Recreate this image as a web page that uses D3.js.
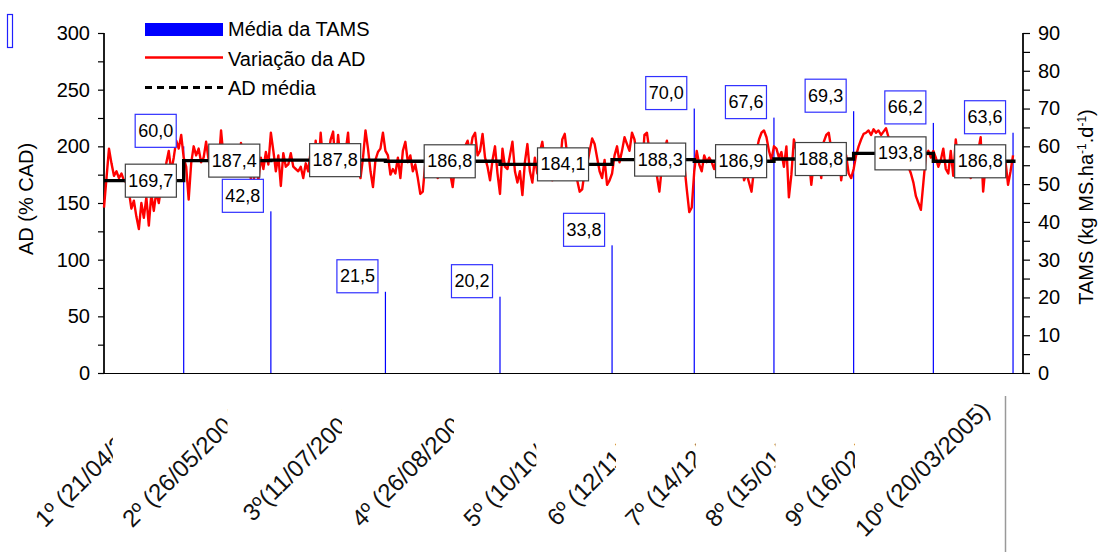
<!DOCTYPE html>
<html><head><meta charset="utf-8">
<script src="https://cdn.jsdelivr.net/npm/d3@7"></script>
<style>
body{margin:0;background:#fff;}
svg{display:block;font-family:"Liberation Sans",Arial,sans-serif;}
</style></head><body>
<svg id="chart" width="1100" height="552"></svg>
<script>
// ---------------- DATA ----------------
const periodLabels = ["1º (21/04/2004)","2º (26/05/2004)","3º(11/07/2004)","4º (26/08/2004)","5º (10/10/2004)",
  "6º (12/11/2004)","7º (14/12/2004)","8º (15/01/2005)","9º (16/02/2005)","10º (20/03/2005)"];
const periodDates = ["2004-04-21","2004-05-26","2004-07-11","2004-08-26","2004-10-10",
  "2004-11-12","2004-12-14","2005-01-15","2005-02-16","2005-03-20"];
const tamsValues = [60.0,42.8,21.5,20.2,33.8,70.0,67.6,69.3,66.2,63.6];
const adMeanValues = [169.7,187.4,187.8,186.8,184.1,188.3,186.9,188.8,193.8,186.8];
const adStartDate = "2004-03-20";
const axisEndDate = "2005-03-24";
const adDaily = [
 146,172,198,185,174,178,172,176,170,168,160,145,152,138,127,150,137,155,130,158,143,160,150,165,158,185,196,178,190,205,198,210,190,
 182,153,185,200,192,198,186,190,204,188,180,195,200,182,214,190,175,198,185,180,192,176,203,188,178,196,170,168,185,170,190,180,195,184,212,
 196,178,192,165,194,182,184,194,182,180,178,182,172,185,178,196,176,205,176,212,185,178,190,206,213,180,210,186,182,195,212,178,176,178,180,172,190,214,198,178,164,188,195,198,212,196,
 192,175,180,176,190,172,196,204,186,192,178,184,172,158,160,185,198,190,182,188,172,186,194,180,190,176,164,184,196,188,180,200,205,195,208,212,192,196,211,190,182,170,188,200,176,158,
 198,182,180,192,204,178,168,178,157,186,202,178,168,190,176,195,204,186,178,190,170,184,196,180,206,211,192,180,186,174,170,160,162,178,184,196,207,202,190,178,172,188,166,170,176,
 192,200,186,196,208,202,196,212,206,190,200,178,210,212,196,186,192,174,160,182,196,205,188,180,194,184,190,178,184,162,142,146,178,
 196,184,178,192,186,190,186,180,190,186,174,188,182,182,184,178,190,182,186,170,176,168,160,180,196,206,212,214,208,196,188,200,
 198,190,195,182,200,155,175,206,196,188,202,194,194,190,166,186,196,188,172,204,210,212,198,190,184,194,170,186,192,176,172,180,
 192,200,206,211,212,214,210,215,212,214,210,213,216,208,196,186,200,206,198,190,196,182,176,168,156,150,144,168,192,196,190,196,
 190,182,188,198,180,176,196,174,206,188,182,196,178,190,172,178,186,196,208,160,184,194,188,200,186,174,192,182,186,166,178,192
];
const leftTickValues = [0,50,100,150,200,250,300];
const leftMinorTicks = [25,75,125,175,225,275];
const rightTickValues = [0,10,20,30,40,50,60,70,80,90];
const rightMinorTicks = [5,15,25,35,45,55,65,75,85];
const legendItems = ["Média da TAMS","Variação da AD","AD média"];

// ---------------- SETUP ----------------
const parse = d3.timeParse("%Y-%m-%d");
const DAY = 864e5;
const svg = d3.select("#chart");
const L = 104, R = 1023, T = 33, B = 373;

const x = d3.scaleTime().domain([parse(adStartDate), parse(axisEndDate)]).range([L, R]);
const yL = d3.scaleLinear().domain([0,300]).range([B, T]);
const yR = d3.scaleLinear().domain([0,90]).range([B, T]);

const start = parse(adStartDate);
const adSeries = adDaily.map((v,i)=>({date:new Date(start.getTime()+i*DAY), v}));
const pDates = periodDates.map(parse);

// stray empty label box (top-left artifact)
svg.append("rect").attr("x",7.5).attr("y",14.5).attr("width",5).attr("height",33)
  .attr("fill","none").attr("stroke","#2020ff").attr("stroke-width",1.2);

// ---------------- AXES ----------------
const fontTick = "20px";
svg.append("g").attr("transform",`translate(${L},0)`)
  .call(d3.axisLeft(yL).tickValues(leftTickValues).tickSize(6).tickPadding(8).tickFormat(d3.format("d")));
svg.append("g").attr("transform",`translate(${L},0)`)
  .call(d3.axisLeft(yL).tickValues(leftMinorTicks).tickSize(6).tickFormat(""));
svg.append("g").attr("transform",`translate(${R},0)`)
  .call(d3.axisRight(yR).tickValues(rightTickValues).tickSize(7).tickPadding(8).tickFormat(d3.format("d")));
svg.append("g").attr("transform",`translate(${R},0)`)
  .call(d3.axisRight(yR).tickValues(rightMinorTicks).tickSize(7).tickFormat(""));
svg.selectAll(".domain").attr("stroke","#000").attr("stroke-width",1.3)
  .attr("d", `M0,${T}V${B}`);
svg.selectAll(".tick line").attr("stroke","#000").attr("stroke-width",1.2);
svg.selectAll(".tick text").attr("font-size",fontTick).attr("fill","#000")
  .attr("font-family","Liberation Sans, Arial, sans-serif");

// x baseline
svg.append("line").attr("x1",L).attr("x2",R).attr("y1",B+0.5).attr("y2",B+0.5)
  .attr("stroke","#000").attr("stroke-width",1);

// axis titles
svg.append("text").attr("transform",`translate(33,${(T+B)/2 - 4}) rotate(-90)`)
  .attr("text-anchor","middle").attr("font-size","20px").text("AD (% CAD)");
const tt = svg.append("text").attr("transform",`translate(1093,${(T+B)/2 + 4}) rotate(-90)`)
  .attr("text-anchor","middle").attr("font-size","20px");
tt.append("tspan").text("TAMS (kg MS.ha");
tt.append("tspan").attr("baseline-shift","super").attr("font-size","12px").text("-1");
tt.append("tspan").text(".d");
tt.append("tspan").attr("baseline-shift","super").attr("font-size","12px").text("-1");
tt.append("tspan").text(")");

// ---------------- BARS (TAMS) ----------------
svg.append("g").selectAll("rect").data(tamsValues).join("rect")
  .attr("x",(d,i)=>x(pDates[i]) - 0.6)
  .attr("width",1.2)
  .attr("y",d=>yR(d))
  .attr("height",d=>yR(0)-yR(d))
  .attr("fill","#0000ff");

// ---------------- RED LINE ----------------
svg.append("path").datum(adSeries)
  .attr("fill","none").attr("stroke","#ff0000").attr("stroke-width",2.4).attr("stroke-linejoin","round")
  .attr("d", d3.line().x(d=>x(d.date)).y(d=>yL(d.v)));

// ---------------- MEAN STEP LINE ----------------
const periodStarts = [start].concat(pDates.slice(0,-1));
const stepPts = adMeanValues.map((v,i)=>({date:periodStarts[i], v}));
stepPts.push({date:new Date(pDates[pDates.length-1].getTime()+DAY), v:adMeanValues[adMeanValues.length-1]});
svg.append("path").datum(stepPts)
  .attr("fill","none").attr("stroke","#000").attr("stroke-width",3.4)
  .attr("d", d3.line().curve(d3.curveStepAfter).x(d=>x(d.date)).y(d=>yL(d.v)));

// ---------------- LABEL BOXES ----------------
const fmt = v => v.toFixed(1).replace(".", ",");
function boxLabel(g, cx, cy, txt, stroke, fs){
  const grp = g.append("g");
  const t = grp.append("text").attr("x",cx).attr("y",cy).attr("text-anchor","middle")
    .attr("dominant-baseline","central").attr("font-size",fs).text(txt);
  const w = t.node().getComputedTextLength() + 6;
  grp.insert("rect","text").attr("x",cx - w/2).attr("y",cy-16.5).attr("width",w).attr("height",33)
    .attr("fill","#fff").attr("stroke",stroke).attr("stroke-width",1.2);
}
const labG = svg.append("g");
adMeanValues.forEach((v,i)=>{
  const a = x(periodStarts[i]), b = x(pDates[i]);
  boxLabel(labG, (a+b)/2 + 7, yL(v), fmt(v), "#404040", "18px");
});
tamsValues.forEach((v,i)=>{
  boxLabel(labG, x(pDates[i]) - 28, yR(v) - 15.5, fmt(v), "#3030ff", "18px");
});

// ---------------- X LABELS ----------------
const defs = svg.append("defs");
const xlabG = svg.append("g");
periodLabels.forEach((lab,i)=>{
  const bx = x(pDates[i]);
  let clipRight = 1100;
  if(i < periodLabels.length-1) clipRight = x(pDates[i+1]) - 158;
  defs.append("clipPath").attr("id","xc"+i).append("rect")
    .attr("x",0).attr("y",380).attr("width",clipRight).attr("height",172);
  xlabG.append("g").attr("clip-path",`url(#xc${i})`)
    .append("text").attr("text-anchor","end").attr("font-size","24px").attr("fill","#111")
    .attr("transform",`translate(${bx-22},${412}) rotate(-45)`).text(lab);
});
// thin grey line at right of label area
svg.append("line").attr("x1",1005.5).attr("x2",1005.5).attr("y1",396).attr("y2",552)
  .attr("stroke","#999").attr("stroke-width",1.5);

// ---------------- LEGEND ----------------
const lg = svg.append("g");
lg.append("rect").attr("x",145).attr("y",23).attr("width",78).attr("height",13).attr("fill","#0000ff");
lg.append("line").attr("x1",145).attr("x2",223).attr("y1",57.5).attr("y2",57.5).attr("stroke","#ff0000").attr("stroke-width",2.5);
lg.append("line").attr("x1",145).attr("x2",223).attr("y1",87.5).attr("y2",87.5).attr("stroke","#000").attr("stroke-width",3).attr("stroke-dasharray","7,5");
legendItems.forEach((t,i)=>{
  lg.append("text").attr("x",228).attr("y",36 + i*29.5).attr("font-size","20px").text(t);
});
</script>
</body></html>
